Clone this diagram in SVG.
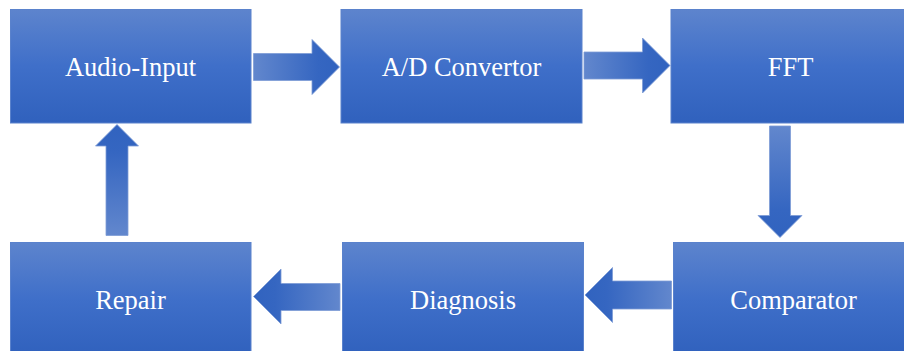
<svg xmlns="http://www.w3.org/2000/svg" width="904" height="351" viewBox="0 0 904 351">
  <defs>
    <linearGradient id="boxGrad" x1="0" y1="0" x2="0" y2="1">
      <stop offset="0" stop-color="#5D84CD"/>
      <stop offset="0.5" stop-color="#3F6FC9"/>
      <stop offset="1" stop-color="#3061BD"/>
    </linearGradient>
    <linearGradient id="arrR" x1="0" y1="0" x2="1" y2="0">
      <stop offset="0" stop-color="#6287CD"/>
      <stop offset="0.75" stop-color="#3566C1"/>
      <stop offset="1" stop-color="#3163BF"/>
    </linearGradient>
    <linearGradient id="arrL" x1="1" y1="0" x2="0" y2="0">
      <stop offset="0" stop-color="#6287CD"/>
      <stop offset="0.75" stop-color="#3566C1"/>
      <stop offset="1" stop-color="#3163BF"/>
    </linearGradient>
    <linearGradient id="arrD" x1="0" y1="0" x2="0" y2="1">
      <stop offset="0" stop-color="#6287CD"/>
      <stop offset="0.75" stop-color="#3566C1"/>
      <stop offset="1" stop-color="#3163BF"/>
    </linearGradient>
    <linearGradient id="arrU" x1="0" y1="1" x2="0" y2="0">
      <stop offset="0" stop-color="#6287CD"/>
      <stop offset="0.75" stop-color="#3566C1"/>
      <stop offset="1" stop-color="#3163BF"/>
    </linearGradient>
  </defs>
  <style>
    .box { fill: url(#boxGrad); stroke: #5A82CC; stroke-width: 1; }
    .arrow { stroke: #7D9CD6; stroke-width: 0.8; stroke-linejoin: miter; }
  </style>
  <rect width="904" height="351" fill="#FFFFFF"/>

  <g id="connectors">
    <polygon class="arrow" fill="url(#arrR)" points="253.5,53.5 312,53.5 312,39.5 339.5,67 312,94.5 312,80.5 253.5,80.5"/>
    <polygon class="arrow" fill="url(#arrR)" points="584,52 642.5,52 642.5,38 670,65.5 642.5,93 642.5,79 584,79"/>
    <polygon class="arrow" fill="url(#arrD)" points="769.5,126 790.5,126 790.5,215.5 802,215.5 780,237.5 758,215.5 769.5,215.5"/>
    <polygon class="arrow" fill="url(#arrL)" points="671.5,281 612.5,281 612.5,267.5 585,295 612.5,322.5 612.5,309 671.5,309"/>
    <polygon class="arrow" fill="url(#arrL)" points="340,283.5 281,283.5 281,269 253.5,296.5 281,324 281,310.5 340,310.5"/>
    <polygon class="arrow" fill="url(#arrU)" points="106,235.5 128,235.5 128,146 138.5,146 117,124.5 95.5,146 106,146"/>
  </g>

  <g font-family="Liberation Serif" font-size="26.5" fill="#FFFFFF" text-anchor="middle">
  <g id="node-audio-input">
    <rect class="box" x="10.5" y="9.5" width="240.5" height="113.5"/>
    <text x="130.5" y="76" font-family="Liberation Serif">Audio-Input</text>
  </g>
  <g id="node-ad-convertor">
    <rect class="box" x="341" y="9.5" width="241" height="113.5"/>
    <text x="461.5" y="76" font-family="Liberation Serif">A/D Convertor</text>
  </g>
  <g id="node-fft">
    <rect class="box" x="671" y="9.5" width="240" height="113.5"/>
    <text x="790.5" y="76" font-family="Liberation Serif">FFT</text>
  </g>
  <g id="node-comparator">
    <rect class="box" x="673.5" y="242.5" width="240" height="113.5"/>
    <text x="793.5" y="309" font-family="Liberation Serif">Comparator</text>
  </g>
  <g id="node-diagnosis">
    <rect class="box" x="342.5" y="242.5" width="241" height="113.5"/>
    <text x="463" y="309" font-family="Liberation Serif">Diagnosis</text>
  </g>
  <g id="node-repair">
    <rect class="box" x="10.5" y="242.5" width="240.5" height="113.5"/>
    <text x="130.5" y="309" font-family="Liberation Serif">Repair</text>
  </g>
  </g>
</svg>
